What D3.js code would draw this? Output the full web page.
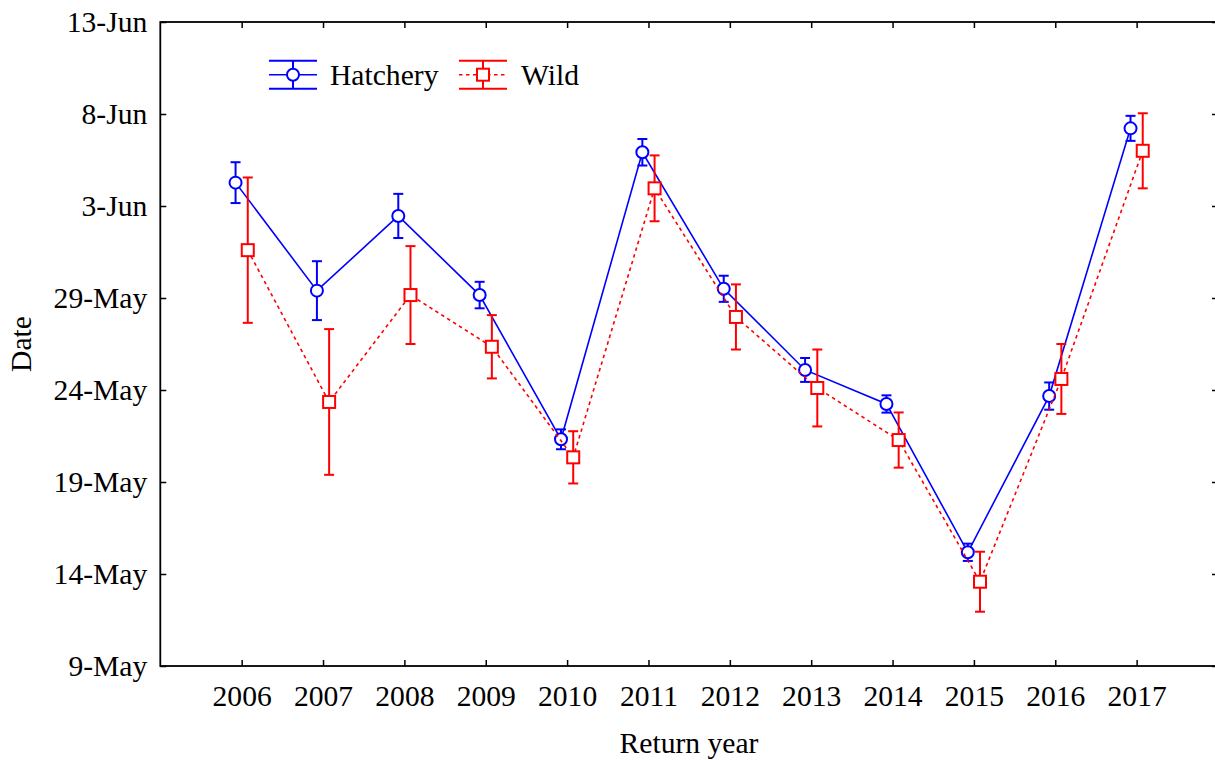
<!DOCTYPE html>
<html>
<head>
<meta charset="utf-8">
<script src="https://cdn.jsdelivr.net/npm/d3@7/dist/d3.min.js"></script>
<style>
  html, body { margin: 0; padding: 0; background: #fff; }
  svg { display: block; }
  text { font-family: "Liberation Serif", "Times New Roman", serif; fill: #000; }
</style>
</head>
<body>
<svg id="chart" width="1215" height="760"></svg>
<script>
// Return years
const years = [2006, 2007, 2008, 2009, 2010, 2011, 2012, 2013, 2014, 2015, 2016, 2017];

// Mean return date, as day counted from 1 May (e.g. 34 = 3-Jun), with ± error
const hatcheryMean = [35.27, 29.40, 33.46, 29.16, 21.32, 36.92, 29.50, 25.09, 23.24, 15.18, 23.67, 38.22];
const hatcheryErr  = [1.11, 1.60, 1.20, 0.72, 0.54, 0.72, 0.71, 0.65, 0.47, 0.47, 0.74, 0.68];
const wildMean     = [31.60, 23.35, 29.16, 26.35, 20.34, 34.96, 27.97, 24.11, 21.28, 13.58, 24.60, 37.00];
const wildErr      = [3.95, 3.96, 2.66, 1.72, 1.42, 1.79, 1.77, 2.09, 1.50, 1.63, 1.90, 2.04];

// Date axis ticks (day from 1 May) and their labels
const dateTicks  = [9, 14, 19, 24, 29, 34, 39, 44];
const dateLabels = ["9-May", "14-May", "19-May", "24-May", "29-May", "3-Jun", "8-Jun", "13-Jun"];

const svg = d3.select("#chart");
const W = 1215, H = 760;
const m = { left: 160.3, top: 22, right: 1218, bottom: 666 };
const FONT = 29.6;

svg.append("rect").attr("width", W).attr("height", H).attr("fill", "#fff");

const x = d3.scaleLinear().domain([2005, 2018]).range([m.left, m.right]);
const y = d3.scaleLinear().domain([9, 44]).range([m.bottom, m.top]);

// Axes with inward ticks on all four sides
const fmtY = d => dateLabels[dateTicks.indexOf(d)];

const gL = svg.append("g").attr("transform", `translate(${m.left},0)`)
  .call(d3.axisLeft(y).tickValues(dateTicks).tickFormat(fmtY)
    .tickSizeInner(-6).tickSizeOuter(0).tickPadding(13));
const gB = svg.append("g").attr("transform", `translate(0,${m.bottom})`)
  .call(d3.axisBottom(x).tickValues(years).tickFormat(d3.format("d"))
    .tickSizeInner(-6).tickSizeOuter(0).tickPadding(18.5));
const gT = svg.append("g").attr("transform", `translate(0,${m.top})`)
  .call(d3.axisTop(x).tickValues(years).tickFormat("")
    .tickSizeInner(-6).tickSizeOuter(0));
const gR = svg.append("g").attr("transform", `translate(${m.right},0)`)
  .call(d3.axisRight(y).tickValues(dateTicks).tickFormat("")
    .tickSizeInner(-6).tickSizeOuter(0));

[gL, gB, gT, gR].forEach(g => {
  g.select(".domain").remove();
  g.selectAll(".tick line").attr("stroke", "#000").attr("stroke-width", 1.5);
  g.selectAll(".tick text").style("font-size", FONT + "px")
    .style("font-family", '"Liberation Serif", serif');
});

// Plot frame
svg.append("rect")
  .attr("x", m.left).attr("y", m.top)
  .attr("width", m.right - m.left).attr("height", m.bottom - m.top)
  .attr("fill", "none").attr("stroke", "#000").attr("stroke-width", 1.8);

// Axis titles
svg.append("text")
  .attr("x", 689).attr("y", 753)
  .attr("text-anchor", "middle").style("font-size", FONT + "px")
  .text("Return year");
svg.append("text")
  .attr("transform", "translate(31,344) rotate(-90)")
  .attr("text-anchor", "middle").style("font-size", FONT + "px")
  .text("Date");

const series = [
  { name: "Hatchery", mean: hatcheryMean, err: hatcheryErr, color: "#0000ff", offset: -0.075, dash: null, shape: "circle" },
  { name: "Wild", mean: wildMean, err: wildErr, color: "#ff0000", offset: 0.075, dash: "3.5,3.5", shape: "square" }
];

const CAP = 5;
series.forEach(s => {
  const pts = years.map((yr, i) => ({ x: x(yr + s.offset), m: s.mean[i], e: s.err[i] }));
  const g = svg.append("g");

  g.append("path")
    .attr("d", d3.line().x(d => d.x).y(d => y(d.m))(pts))
    .attr("fill", "none").attr("stroke", s.color).attr("stroke-width", 1.6)
    .attr("stroke-dasharray", s.dash);

  const eb = g.selectAll(".eb").data(pts).enter().append("g")
    .attr("stroke", s.color).attr("stroke-width", 2).attr("fill", "none");
  eb.append("line").attr("x1", d => d.x).attr("x2", d => d.x)
    .attr("y1", d => y(d.m + d.e)).attr("y2", d => y(d.m - d.e));
  eb.append("line").attr("x1", d => d.x - CAP).attr("x2", d => d.x + CAP)
    .attr("y1", d => y(d.m + d.e)).attr("y2", d => y(d.m + d.e));
  eb.append("line").attr("x1", d => d.x - CAP).attr("x2", d => d.x + CAP)
    .attr("y1", d => y(d.m - d.e)).attr("y2", d => y(d.m - d.e));

  if (s.shape === "circle") {
    g.selectAll(".mk").data(pts).enter().append("circle")
      .attr("cx", d => d.x).attr("cy", d => y(d.m)).attr("r", 6)
      .attr("fill", "#fff").attr("stroke", s.color).attr("stroke-width", 2);
  } else {
    g.selectAll(".mk").data(pts).enter().append("rect")
      .attr("x", d => d.x - 6).attr("y", d => y(d.m) - 6)
      .attr("width", 12).attr("height", 12)
      .attr("fill", "#fff").attr("stroke", s.color).attr("stroke-width", 2);
  }
});

// Legend
const legY = 74.7, legCap = 14;
const legendItems = [
  { s: series[0], cx: 293, tx: 330 },
  { s: series[1], cx: 483, tx: 521 }
];
legendItems.forEach(({ s, cx, tx }) => {
  const g = svg.append("g").attr("stroke", s.color).attr("fill", "none");
  const half = 24;
  g.append("line").attr("x1", cx - half).attr("x2", cx + half)
    .attr("y1", legY - legCap).attr("y2", legY - legCap).attr("stroke-width", 2);
  g.append("line").attr("x1", cx - half).attr("x2", cx + half)
    .attr("y1", legY + legCap).attr("y2", legY + legCap).attr("stroke-width", 2);
  g.append("line").attr("x1", cx - half).attr("x2", cx + half)
    .attr("y1", legY).attr("y2", legY).attr("stroke-width", 1.6)
    .attr("stroke-dasharray", s.dash);
  g.append("line").attr("x1", cx).attr("x2", cx)
    .attr("y1", legY - legCap).attr("y2", legY + legCap).attr("stroke-width", 2);
  if (s.shape === "circle") {
    g.append("circle").attr("cx", cx).attr("cy", legY).attr("r", 6)
      .attr("fill", "#fff").attr("stroke-width", 2);
  } else {
    g.append("rect").attr("x", cx - 6).attr("y", legY - 6).attr("width", 12).attr("height", 12)
      .attr("fill", "#fff").attr("stroke-width", 2);
  }
  svg.append("text").attr("x", tx).attr("y", 85)
    .style("font-size", FONT + "px").text(s.name);
});
</script>
</body>
</html>
